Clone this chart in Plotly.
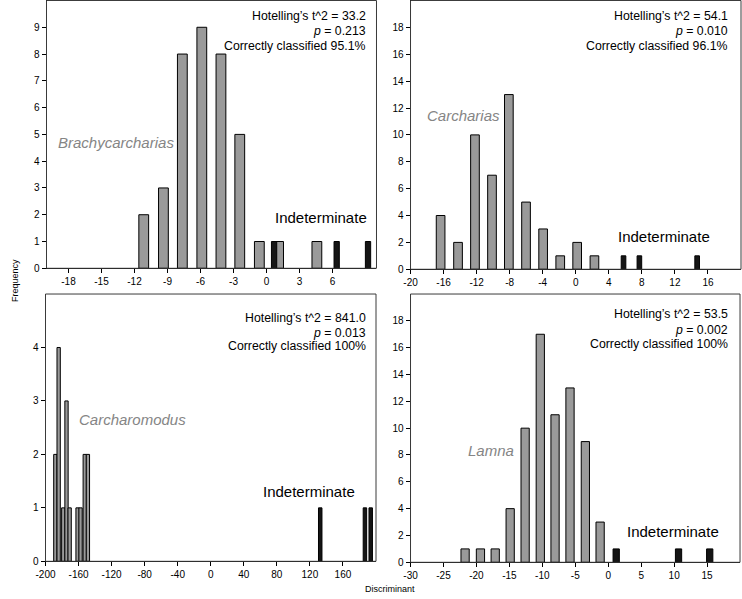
import plotly.graph_objects as go

W, H = 742, 599

# ---------------- data ----------------
# Brachycarcharias (top-left)
brachy_x = [-11.16, -9.37, -7.65, -5.88, -4.14, -2.43, -0.65, 1.1, 4.58]
brachy_y = [2, 3, 8, 9, 8, 5, 1, 1, 1]
brachy_ind_x = [0.69, 6.38, 9.23]
brachy_ind_y = [1, 1, 1]

# Carcharias (top-right)
carch_x = [-16.36, -14.25, -12.2, -10.14, -8.1, -6.02, -3.95, -1.88, 0.17, 2.26]
carch_y = [4, 2, 10, 7, 13, 5, 3, 1, 2, 1]
carch_ind_x = [5.78, 7.7, 14.69]
carch_ind_y = [1, 1, 1]

# Carcharomodus (bottom-left)
carcharo_x = [-188.1, -184.1, -178.5, -174.6, -170.8, -161.2, -157.6, -152.5, -148.7]
carcharo_y = [2, 4, 1, 3, 1, 1, 1, 2, 2]
carcharo_ind_x = [132.5, 186.6, 193.6]
carcharo_ind_y = [1, 1, 1]

# Lamna (bottom-right)
lamna_x = [-21.72, -19.39, -17.15, -14.88, -12.61, -10.31, -8.07, -5.8, -3.47, -1.23]
lamna_y = [1, 1, 1, 4, 10, 17, 11, 13, 9, 3]
lamna_ind_x = [1.21, 10.67, 15.4]
lamna_ind_y = [1, 1, 1]

# tick values
tl_xticks = [-18, -15, -12, -9, -6, -3, 0, 3, 6]
tr_xticks = [-20, -16, -12, -8, -4, 0, 4, 8, 12, 16]
bl_xticks = [-200, -160, -120, -80, -40, 0, 40, 80, 120, 160]
br_xticks = [-30, -25, -20, -15, -10, -5, 0, 5, 10, 15]
tl_yticks = list(range(0, 10))
tr_yticks = list(range(0, 19, 2))
bl_yticks = list(range(0, 5))
br_yticks = list(range(0, 19, 2))

stats = [
    ("Hotelling\u2019s t^2 = 33.2", "<i>p</i> = 0.213", "Correctly classified 95.1%"),
    ("Hotelling\u2019s t^2 = 54.1", "<i>p</i> = 0.010", "Correctly classified 96.1%"),
    ("Hotelling\u2019s t^2 = 841.0", "<i>p</i> = 0.013", "Correctly classified 100%"),
    ("Hotelling\u2019s t^2 = 53.5", "<i>p</i> = 0.002", "Correctly classified 100%"),
]
genera = ["Brachycarcharias", "Carcharias", "Carcharomodus", "Lamna"]

# ---------------- layout geometry (pixels) ----------------
panels = [
    dict(x0=37, x1=371.5, yt=0.5, yb=271, xr=[-20, 10], yr=[0, 10],
         xt=tl_xticks, yt_=tl_yticks, gw=0.89, bw=0.48,
         gx=brachy_x, gy=brachy_y, bx=brachy_ind_x, by=brachy_ind_y,
         stat_x=363, stat_y=[15.7, 31.7, 46], gen=(47, 144), ind=(267, 220)),
    dict(x0=406, x1=741, yt=0.5, yb=272, xr=[-20, 20], yr=[0, 20],
         xt=tr_xticks, yt_=tr_yticks, gw=1.05, bw=0.56,
         gx=carch_x, gy=carch_y, bx=carch_ind_x, by=carch_ind_y,
         stat_x=730, stat_y=[15.7, 31.7, 46], gen=(421, 117), ind=(614, 239)),
    dict(x0=36, x1=371, yt=297, yb=567, xr=[-200, 200], yr=[0, 5],
         xt=bl_xticks, yt_=bl_yticks, gw=4.0, bw=4.2,
         gx=carcharo_x, gy=carcharo_y, bx=carcharo_ind_x, by=carcharo_ind_y,
         stat_x=363, stat_y=[321.7, 336, 350], gen=(68, 424), ind=(254, 496)),
    dict(x0=406, x1=740, yt=297, yb=568, xr=[-30, 20], yr=[0, 20],
         xt=br_xticks, yt_=br_yticks, gw=1.25, bw=0.95,
         gx=lamna_x, gy=lamna_y, bx=lamna_ind_x, by=lamna_ind_y,
         stat_x=730, stat_y=[317.3, 333.3, 347.7], gen=(462, 455), ind=(623, 537)),
]

FONT = "Arial, 'Liberation Sans', sans-serif"
GRAY = "#9a9a9a"
BLACK = "#151515"

fig = go.Figure()
layout = dict(
    width=W, height=H, autosize=False,
    margin=dict(l=0, r=0, t=0, b=0, pad=0),
    paper_bgcolor="white", plot_bgcolor="white",
    showlegend=False, barmode="overlay",
    font=dict(family=FONT, color="black", size=10),
)
annotations = []
shapes = []


def px(x):
    return x / W


def py(y):
    return 1 - y / H


for i, p in enumerate(panels):
    n = "" if i == 0 else str(i + 1)
    xa, ya = "x" + n, "y" + n
    fig.add_trace(go.Bar(x=p["gx"], y=p["gy"], width=p["gw"], xaxis=xa, yaxis=ya,
                         marker=dict(color=GRAY, line=dict(color="black", width=1)),
                         hoverinfo="x+y"))
    fig.add_trace(go.Bar(x=p["bx"], y=p["by"], width=p["bw"], xaxis=xa, yaxis=ya,
                         marker=dict(color=BLACK, line=dict(color="black", width=1)),
                         hoverinfo="x+y"))
    layout["xaxis" + n] = dict(
        domain=[px(p["x0"]), px(p["x1"])], range=p["xr"], anchor=ya,
        tickvals=p["xt"], ticktext=[str(v) for v in p["xt"]],
        ticks="outside", ticklen=4, tickcolor="black", tickwidth=1,
        showline=True, linecolor="black", linewidth=1, mirror=False,
        showgrid=False, zeroline=False, fixedrange=True,
        tickfont=dict(size=10, family=FONT, color="black"),
    )
    layout["yaxis" + n] = dict(
        domain=[py(p["yb"]), py(p["yt"])], range=p["yr"], anchor=xa,
        tickvals=p["yt_"], ticktext=[str(v) for v in p["yt_"]],
        ticks="outside", ticklen=4, tickcolor="black", tickwidth=1,
        showline=True, linecolor="black", linewidth=1, mirror=False,
        showgrid=False, zeroline=False, fixedrange=True,
        tickfont=dict(size=10, family=FONT, color="black"),
    )
    shapes.append(dict(type="rect", xref=xa + " domain", yref=ya + " domain",
                       x0=0, x1=1, y0=0, y1=1, line=dict(color="#3a3a3a", width=1),
                       fillcolor="rgba(0,0,0,0)", layer="above"))
    for t, yy in zip(stats[i], p["stat_y"]):
        annotations.append(dict(text=t, x=px(p["stat_x"]), y=py(yy), xref="paper", yref="paper",
                                xanchor="right", yanchor="middle", showarrow=False,
                                font=dict(size=12.3, family=FONT, color="black")))
    annotations.append(dict(text="<i>" + genera[i] + "</i>", x=px(p["gen"][0]), y=py(p["gen"][1]),
                            xref="paper", yref="paper", xanchor="left", yanchor="middle",
                            showarrow=False, font=dict(size=15, family=FONT, color="#858585")))
    annotations.append(dict(text="Indeterminate", x=px(p["ind"][0]), y=py(p["ind"][1]),
                            xref="paper", yref="paper", xanchor="left", yanchor="middle",
                            showarrow=False, font=dict(size=15, family=FONT, color="black")))

annotations.append(dict(text="Frequency", x=px(5), y=py(283), xref="paper", yref="paper",
                        xanchor="center", yanchor="middle", textangle=-90, showarrow=False,
                        font=dict(size=9, family=FONT, color="black")))
annotations.append(dict(text="Discriminant", x=px(385), y=py(594.5), xref="paper", yref="paper",
                        xanchor="center", yanchor="middle", showarrow=False,
                        font=dict(size=9, family=FONT, color="black")))

layout["annotations"] = annotations
layout["shapes"] = shapes
fig.update_layout(**layout)
fig.write_html("out.html", config={"displayModeBar": False},
               post_script="document.body.style.margin='0';document.body.style.padding='0';")
